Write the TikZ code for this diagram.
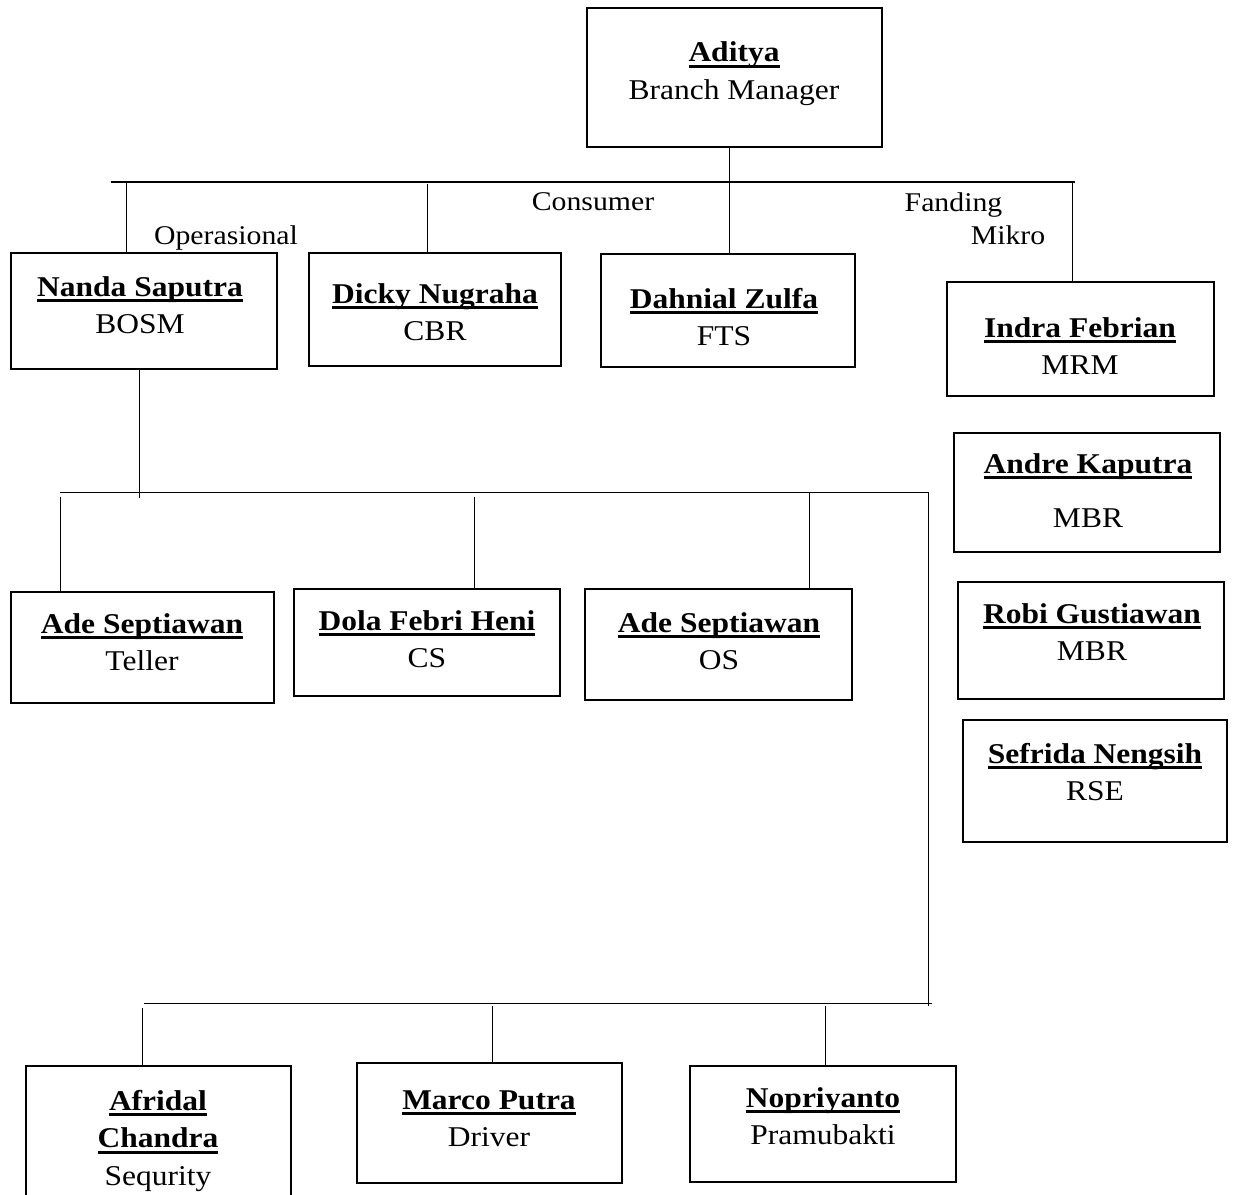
\documentclass[tikz,border=0pt]{standalone}
\usepackage{fontspec}
\setmainfont{Liberation Serif}[FakeStretch=1.1]
\newsavebox{\namebox}
\newcommand{\ulname}[1]{\leavevmode\sbox{\namebox}{\bfseries #1}\rlap{\rule[-3.2pt]{\wd\namebox}{1.6pt}}\usebox{\namebox}}
\tikzset{
  orgbox/.style={draw, line width=1.5pt, inner sep=0pt},
  who/.style={align=center, anchor=north, inner sep=0pt, font=\fontsize{16.3}{21.3}\selectfont},
  unit/.style={anchor=base, inner sep=0pt, font=\fontsize{15.4}{18}\selectfont},
  link/.style={line width=0.6pt},
}
\begin{document}
\begin{tikzpicture}[x=0.02cm,y=-0.02cm]
  \useasboundingbox (0,0) rectangle (1234,1195);
  % boxes
  \node[orgbox, minimum width=5.90cm, minimum height=2.78cm] (aditya)  at (734.5,77.5) {};
  \node[orgbox, minimum width=5.32cm, minimum height=2.32cm] (nanda)   at (144,311) {};
  \node[orgbox, minimum width=5.04cm, minimum height=2.26cm] (dicky)   at (435,309.5) {};
  \node[orgbox, minimum width=5.08cm, minimum height=2.26cm] (dahnial) at (728,310.5) {};
  \node[orgbox, minimum width=5.34cm, minimum height=2.28cm] (indra)   at (1080.5,339) {};
  \node[orgbox, minimum width=5.32cm, minimum height=2.38cm] (andre)   at (1087,492.5) {};
  \node[orgbox, minimum width=5.32cm, minimum height=2.34cm] (robi)    at (1091,640.5) {};
  \node[orgbox, minimum width=5.28cm, minimum height=2.44cm] (sefrida) at (1095,781) {};
  \node[orgbox, minimum width=5.26cm, minimum height=2.22cm] (teller)  at (142.5,647.5) {};
  \node[orgbox, minimum width=5.32cm, minimum height=2.14cm] (dola)    at (427,642.5) {};
  \node[orgbox, minimum width=5.34cm, minimum height=2.22cm] (os)      at (718.5,644.5) {};
  \node[orgbox, minimum width=5.30cm, minimum height=3.40cm] (afridal) at (158.5,1151) {};
  \node[orgbox, minimum width=5.30cm, minimum height=2.40cm] (marco)   at (489.5,1123) {};
  \node[orgbox, minimum width=5.32cm, minimum height=2.32cm] (nopri)   at (823,1124) {};
  %
  \node[who] (aditya-t)  at (734,41.7)   {\ulname{Aditya}\\ Branch Manager};
  \node[who] (nanda-t)   at (140,276)    {\ulname{Nanda Saputra}\\ BOSM};
  \node[who] (dicky-t)   at (435,283)    {\ulname{Dicky Nugraha}\\ CBR};
  \node[who] (dahnial-t) at (724,288)    {\ulname{Dahnial Zulfa}\\ FTS};
  \node[who] (indra-t)   at (1080,317)   {\ulname{Indra Febrian}\\ MRM};
  \node[who] (andre-t)   at (1088,453)   {\ulname{Andre Kaputra}\\[9.5pt] MBR};
  \node[who] (robi-t)    at (1092,603)   {\ulname{Robi Gustiawan}\\ MBR};
  \node[who] (sefrida-t) at (1095,743)   {\ulname{Sefrida Nengsih}\\ RSE};
  \node[who] (teller-t)  at (142,613)    {\ulname{Ade Septiawan}\\ Teller};
  \node[who] (dola-t)    at (427,610)    {\ulname{Dola Febri Heni}\\ CS};
  \node[who] (os-t)      at (719,612)    {\ulname{Ade Septiawan}\\ OS};
  \node[who] (afridal-t) at (158,1090)   {\ulname{Afridal}\\ \ulname{Chandra}\\ Sequrity};
  \node[who] (marco-t)   at (489,1090)   {\ulname{Marco Putra}\\ Driver};
  \node[who] (nopri-t)   at (823,1087)   {\ulname{Nopriyanto}\\ Pramubakti};
  %
  \node[unit] (operasional) at (226,245)   {Operasional};
  \node[unit] (consumer)    at (593,210.7) {Consumer};
  \node[unit] (fanding)     at (953.5,211.7) {Fanding};
  \node[unit] (mikro)       at (1008,245)  {Mikro};
  % top level
  \coordinate (b1w) at (110.7,182);
  \coordinate (b1e) at (1074.6,182);
  \coordinate (d-op) at (126.5,182);
  \coordinate (d-co) at (427.8,184);
  \coordinate (d-fu) at (729.5,182);
  \coordinate (d-mi) at (1072.6,182);
  \draw[link] (b1w) -- (b1e);
  \draw[link] (d-fu |- aditya.south) -- (d-fu |- dahnial.north);
  \draw[link] (d-op) -- (d-op |- nanda.north);
  \draw[link] (d-co) -- (d-co |- dicky.north);
  \draw[link] (d-mi) -- (d-mi |- indra.north);
  % second level
  \coordinate (n-out) at (139.6,498.3);
  \coordinate (b2w) at (60,492.3);
  \coordinate (b2e) at (928.3,492.3);
  \coordinate (b3c) at (928.3,1006);
  \coordinate (d-te) at (60.1,496.7);
  \coordinate (d-cs) at (474.5,496.7);
  \coordinate (d-os) at (809.4,492.3);
  \draw[link] (n-out |- nanda.south) -- (n-out);
  \draw[link] (b2w) -- (b2e) -- (b3c);
  \draw[link] (d-te) -- (d-te |- teller.north);
  \draw[link] (d-cs) -- (d-cs |- dola.north);
  \draw[link] (d-os) -- (d-os |- os.north);
  % third level
  \coordinate (b3w) at (144.3,1003.3);
  \coordinate (b3e) at (931.5,1003.3);
  \coordinate (d-se) at (142.3,1008);
  \coordinate (d-dr) at (492.3,1006);
  \coordinate (d-pr) at (825.6,1006);
  \draw[link] (b3w) -- (b3e);
  \draw[link] (d-se) -- (d-se |- afridal.north);
  \draw[link] (d-dr) -- (d-dr |- marco.north);
  \draw[link] (d-pr) -- (d-pr |- nopri.north);
\end{tikzpicture}
\end{document}
